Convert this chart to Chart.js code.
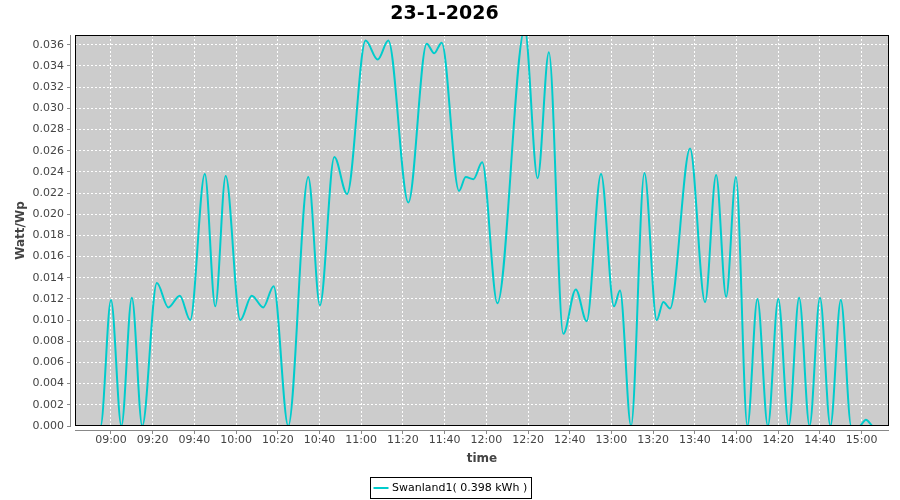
<!DOCTYPE html>
<html>
<head>
<meta charset="utf-8">
<script src="https://cdn.jsdelivr.net/npm/chart.js@4.4.1/dist/chart.umd.min.js"></script>
<style>
html,body{margin:0;padding:0;background:#ffffff;}
#wrap{width:900px;height:500px;}
</style>
</head>
<body>
<div id="wrap"><canvas id="c" width="900" height="500"></canvas></div>
<script>
// ---- chart text ----
const chartTitle = '23-1-2026';
const seriesLabel = 'Swanland1( 0.398 kWh )';
const xAxisTitle = 'time';
const yAxisTitle = 'Watt/Wp';

// ---- data (time in minutes since midnight, value in Watt/Wp) ----
const times = [
  530, 535, 540, 545, 550, 555, 562, 567.5, 573, 578,
  585, 590, 595, 602, 607.5, 613, 618, 625, 634.6, 640.2,
  647.1, 653.2, 662.1, 667.9, 673, 682.6, 691.4, 695, 698.6, 706.9,
  710.1, 713.8, 718, 725.3, 738.4, 744.6, 750, 756.9, 762.9, 768.1,
  775, 781.2, 784.1, 789.4, 795.8, 801.7, 804.9, 808.1, 817.7, 824.9,
  830.2, 835, 839.7, 845.2, 850, 855, 860, 865, 870, 875,
  880, 885, 890, 895, 899, 902, 905
];
const values = [
  0, 0, 0.0119, 0, 0.0121, 0, 0.0135, 0.0112, 0.0123, 0.0100,
  0.0238, 0.0113, 0.0236, 0.0100, 0.0123, 0.0112, 0.0132, 0, 0.0235, 0.0114,
  0.0254, 0.0219, 0.0364, 0.0346, 0.0364, 0.0211, 0.0361, 0.0352, 0.0362, 0.0222,
  0.0235, 0.0233, 0.0249, 0.0116, 0.0375, 0.0234, 0.0353, 0.0087, 0.0129, 0.0099,
  0.0238, 0.0113, 0.0128, 0, 0.0239, 0.0100, 0.0117, 0.0111, 0.0262, 0.0117,
  0.0237, 0.0122, 0.0235, 0, 0.0120, 0, 0.0120, 0, 0.0121, 0,
  0.0121, 0, 0.0119, 0, 0, 0.0006, 0
];

// ---- ticks ----
const xTickValues = [540, 560, 580, 600, 620, 640, 660, 680, 700, 720, 740, 760, 780, 800, 820, 840, 860, 880, 900];
const xTickLabels = ['09:00','09:20','09:40','10:00','10:20','10:40','11:00','11:20','11:40','12:00','12:20','12:40','13:00','13:20','13:40','14:00','14:20','14:40','15:00'];
const yTickValues = [0, 0.002, 0.004, 0.006, 0.008, 0.010, 0.012, 0.014, 0.016, 0.018, 0.020, 0.022, 0.024, 0.026, 0.028, 0.030, 0.032, 0.034, 0.036];
const yTickLabels = ['0.000','0.002','0.004','0.006','0.008','0.010','0.012','0.014','0.016','0.018','0.020','0.022','0.024','0.026','0.028','0.030','0.032','0.034','0.036'];

const xMin = 522.74, xMax = 913.1;
const yMin = 0, yMax = 0.03692;

const lineColor = '#00cccc';
const FONT = '"DejaVu Sans", "Liberation Sans", sans-serif';
Chart.defaults.font.family = FONT;

const plotDeco = {
  id: 'plotDeco',
  beforeDatasetsDraw(chart) {
    const {ctx, chartArea: a, scales: {x, y}} = chart;
    ctx.save();
    ctx.fillStyle = '#cccccc';
    ctx.fillRect(a.left, a.top, a.right - a.left, a.bottom - a.top);
    ctx.strokeStyle = '#ffffff';
    ctx.lineWidth = 1;
    ctx.setLineDash([2, 2]);
    ctx.beginPath();
    xTickValues.forEach(v => {
      const px = Math.floor(x.getPixelForValue(v)) + 0.5;
      ctx.moveTo(px, a.top); ctx.lineTo(px, a.bottom);
    });
    yTickValues.forEach(v => {
      if (v === 0) return;
      const py = Math.floor(y.getPixelForValue(v)) + 0.5;
      ctx.moveTo(a.left, py); ctx.lineTo(a.right, py);
    });
    ctx.stroke();
    ctx.restore();
  },
  afterDatasetsDraw(chart) {
    const {ctx, chartArea: a, scales: {x, y}} = chart;
    ctx.save();
    ctx.setLineDash([]);
    ctx.strokeStyle = '#000000';
    ctx.lineWidth = 1;
    ctx.strokeRect(a.left + 0.5, a.top + 0.5, a.right - a.left - 1, a.bottom - a.top - 1);
    ctx.strokeStyle = '#888888';
    ctx.beginPath();
    ctx.moveTo(a.left - 4.5, a.top); ctx.lineTo(a.left - 4.5, a.bottom);
    ctx.moveTo(a.left, a.bottom + 4.5); ctx.lineTo(a.right, a.bottom + 4.5);
    yTickValues.forEach(v => {
      const py = Math.floor(y.getPixelForValue(v)) + 0.5;
      ctx.moveTo(a.left - 8, py); ctx.lineTo(a.left - 4, py);
    });
    xTickValues.forEach(v => {
      const px = Math.floor(x.getPixelForValue(v)) + 0.5;
      ctx.moveTo(px, a.bottom + 4); ctx.lineTo(px, a.bottom + 8);
    });
    ctx.stroke();
    ctx.restore();
  },
  afterDraw(chart) {
    const ctx = chart.ctx;
    const ds = chart.data.datasets[0];
    ctx.save();
    ctx.font = '11px ' + FONT;
    const tw = ctx.measureText(ds.label).width;
    const bw = Math.round(3.5 + 15 + 3 + tw + 4.5);
    const bx = Math.round(chart.width / 2 - bw / 2) + 0.5;
    const by = 477.5, bh = 21;
    ctx.strokeStyle = '#000000';
    ctx.lineWidth = 1;
    ctx.strokeRect(bx, by, bw, bh);
    ctx.strokeStyle = ds.borderColor;
    ctx.lineWidth = 2;
    ctx.beginPath();
    ctx.moveTo(bx + 3, 488); ctx.lineTo(bx + 18, 488);
    ctx.stroke();
    ctx.fillStyle = '#000000';
    ctx.textBaseline = 'middle';
    ctx.textAlign = 'left';
    ctx.fillText(ds.label, bx + 21.5, 488.5);
    ctx.restore();
  }
};

new Chart(document.getElementById('c'), {
  type: 'line',
  data: {
    datasets: [{
      label: seriesLabel,
      data: times.map((t, i) => ({x: t, y: values[i]})),
      borderColor: lineColor,
      backgroundColor: lineColor,
      borderWidth: 2,
      pointRadius: 0,
      fill: false,
      cubicInterpolationMode: 'monotone',
      clip: 0
    }]
  },
  options: {
    responsive: false,
    animation: false,
    events: [],
    layout: {padding: {left: 0, right: 11, top: 0, bottom: 0}},
    plugins: {
      legend: {display: false},
      tooltip: {enabled: false},
      title: {
        display: true,
        text: chartTitle,
        color: '#000000',
        font: {size: 19, weight: 'bold', family: FONT},
        padding: {top: 3, bottom: 9.2}
      }
    },
    scales: {
      x: {
        type: 'linear',
        position: 'bottom',
        min: xMin,
        max: xMax,
        afterBuildTicks: s => { s.ticks = xTickValues.map(v => ({value: v})); },
        afterFit: s => { s.height = 74; },
        grid: {display: false, drawTicks: false},
        border: {display: false},
        ticks: {
          autoSkip: false,
          maxRotation: 0,
          padding: 8,
          color: '#444444',
          font: {size: 11, family: FONT},
          callback: (v, i) => xTickLabels[i]
        },
        title: {
          display: true,
          text: xAxisTitle,
          color: '#444444',
          font: {size: 12, weight: 'bold', family: FONT},
          padding: {top: 0, bottom: 34}
        }
      },
      y: {
        type: 'linear',
        min: yMin,
        max: yMax,
        afterBuildTicks: s => { s.ticks = yTickValues.map(v => ({value: v})); },
        afterFit: s => { s.width = 75; },
        grid: {display: false, drawTicks: false},
        border: {display: false},
        ticks: {
          autoSkip: false,
          padding: 11,
          color: '#444444',
          font: {size: 11, family: FONT},
          callback: (v, i) => yTickLabels[i]
        },
        title: {
          display: true,
          text: yAxisTitle,
          color: '#444444',
          font: {size: 12, weight: 'bold', family: FONT},
          padding: {top: 14, bottom: 0}
        }
      }
    }
  },
  plugins: [plotDeco]
});
</script>
</body>
</html>
